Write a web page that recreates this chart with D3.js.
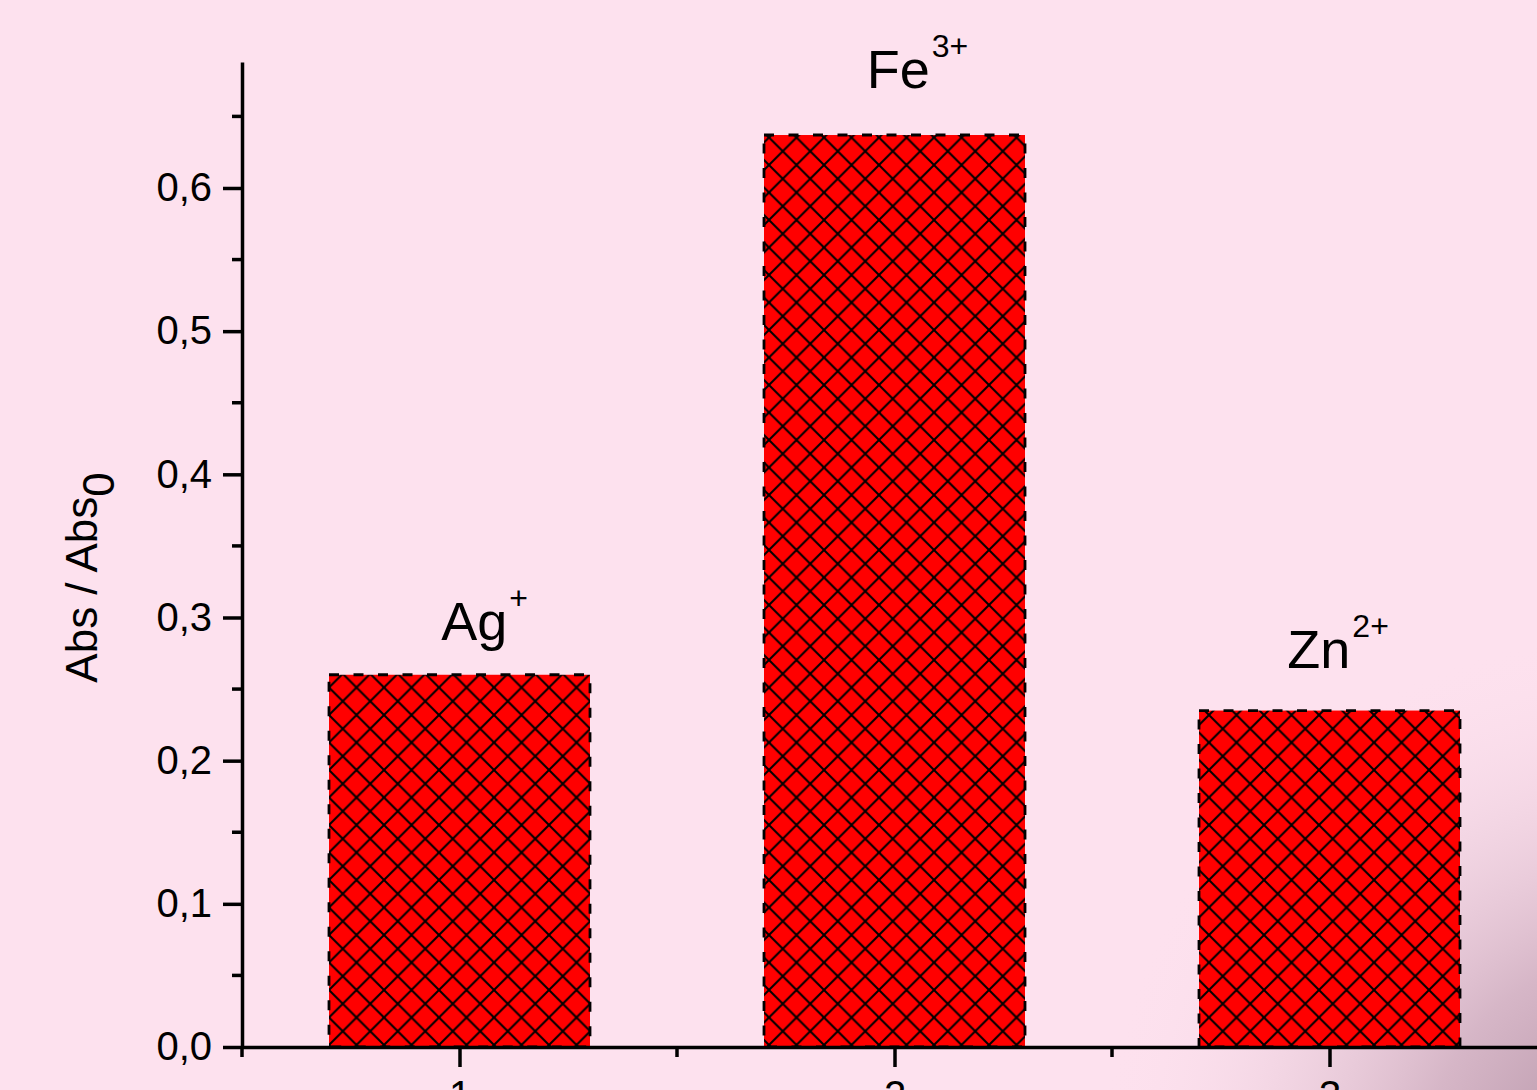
<!DOCTYPE html>
<html>
<head>
<meta charset="utf-8">
<script src="https://cdn.jsdelivr.net/npm/d3@7"></script>
<style>
  html, body { margin: 0; padding: 0; background: #fde1ee; }
  svg { display: block; font-family: "Liberation Sans", Arial, sans-serif; }
</style>
</head>
<body>
<svg id="chart" width="1537" height="1090"></svg>
<script>
// Relative absorbance per metal ion
const categories = [1, 2, 3];
const values = [0.260, 0.637, 0.235];
const ionNames = ["Ag", "Fe", "Zn"];
const ionCharges = ["+", "3+", "2+"];
// label anchor (start of the element symbol) in data units
const labelX = [0.958, 1.936, 2.903];
const labelY = [0.284, 0.670, 0.265];

const yMajorTicks = [0, 0.1, 0.2, 0.3, 0.4, 0.5, 0.6];
const yMinorTicks = [0.05, 0.15, 0.25, 0.35, 0.45, 0.55, 0.65];
const xMajorTicks = [1, 2, 3];
const xMinorTicks = [0.5, 1.5, 2.5, 3.5];
const yTitle = "Abs / Abs";
const yTitleSub = "0";

const W = 1537, H = 1090;
const svg = d3.select("#chart");

const x = d3.scaleLinear().domain([0.5, 3.5]).range([242, 1547]);
const y = d3.scaleLinear().domain([0, 0.688]).range([1047, 62]);
const barWidth = 0.6;

const defs = svg.append("defs");

// cross-hatch fill
const P = 27.5;
const pat = defs.append("pattern")
  .attr("id", "hatch")
  .attr("patternUnits", "userSpaceOnUse")
  .attr("x", x(1 - barWidth / 2))
  .attr("width", P).attr("height", P);
pat.append("rect").attr("width", P).attr("height", P).attr("fill", "#ff0000");
pat.append("path")
  .attr("d", `M0,0L${P},${P}M${P},0L0,${P}`)
  .attr("stroke", "#000").attr("stroke-width", 2).attr("fill", "none");

// soft shadow in the lower right corner
const rg = defs.append("radialGradient")
  .attr("id", "corner")
  .attr("gradientUnits", "userSpaceOnUse")
  .attr("cx", 1640).attr("cy", 1170).attr("r", 540);
rg.append("stop").attr("offset", 0).attr("stop-color", "#9c7a8e").attr("stop-opacity", 0.85);
rg.append("stop").attr("offset", 0.4).attr("stop-color", "#b693a7").attr("stop-opacity", 0.55);
rg.append("stop").attr("offset", 1).attr("stop-color", "#fde1ee").attr("stop-opacity", 0);

svg.append("rect").attr("width", W).attr("height", H).attr("fill", "#fde1ee");
svg.append("rect").attr("width", W).attr("height", H).attr("fill", "url(#corner)");

// bars
const data = categories.map((c, i) => ({ c, v: values[i], name: ionNames[i], charge: ionCharges[i], lx: labelX[i], ly: labelY[i] }));

svg.append("g").selectAll("rect.bar")
  .data(data)
  .join("rect")
  .attr("class", "bar")
  .attr("x", d => x(d.c - barWidth / 2))
  .attr("y", d => y(d.v))
  .attr("width", d => x(d.c + barWidth / 2) - x(d.c - barWidth / 2))
  .attr("height", d => y(0) - y(d.v))
  .attr("fill", "url(#hatch)")
  .attr("stroke", "#000")
  .attr("stroke-width", 2.8)
  .attr("stroke-dasharray", "10,14.5");

// y axis
const yAxis = d3.axisLeft(y)
  .tickValues(yMajorTicks)
  .tickSize(19)
  .tickSizeOuter(0)
  .tickPadding(11)
  .tickFormat(d => d3.format(".1f")(d).replace(".", ","));
const gy = svg.append("g").attr("transform", "translate(242,0)").call(yAxis);
gy.select(".domain").attr("stroke-width", 3.5);
gy.selectAll(".tick line").attr("stroke-width", 3.5);
gy.selectAll(".tick text").attr("font-size", 40).attr("fill", "#000")
  .attr("font-family", "Liberation Sans, Arial, sans-serif");
gy.append("g").selectAll("line")
  .data(yMinorTicks)
  .join("line")
  .attr("x1", -10).attr("x2", 0)
  .attr("y1", d => y(d)).attr("y2", d => y(d))
  .attr("stroke", "#000").attr("stroke-width", 3.5);

// x axis
const xAxis = d3.axisBottom(x)
  .tickValues(xMajorTicks)
  .tickSize(20)
  .tickSizeOuter(0)
  .tickPadding(14)
  .tickFormat(d3.format("d"));
const gx = svg.append("g").attr("transform", "translate(0,1047)").call(xAxis);
gx.select(".domain").attr("stroke-width", 3.5);
gx.selectAll(".tick line").attr("stroke-width", 3.5);
gx.selectAll(".tick text").attr("font-size", 40).attr("fill", "#000")
  .attr("font-family", "Liberation Sans, Arial, sans-serif");
gx.append("g").selectAll("line")
  .data(xMinorTicks)
  .join("line")
  .attr("x1", d => x(d)).attr("x2", d => x(d))
  .attr("y1", 0).attr("y2", 10)
  .attr("stroke", "#000").attr("stroke-width", 3.5);

gy.select(".domain").raise();

// ion labels with superscript charges
const labels = svg.append("g").selectAll("text.ion")
  .data(data)
  .join("text")
  .attr("class", "ion")
  .attr("x", d => x(d.lx))
  .attr("y", d => y(d.ly))
  .attr("font-size", 54)
  .attr("fill", "#000");
labels.append("tspan").text(d => d.name);
labels.append("tspan")
  .attr("font-size", 32)
  .attr("dy", -31)
  .attr("dx", 2)
  .text(d => d.charge);

// y axis title
const title = svg.append("text")
  .attr("transform", `translate(97,${(470 + 685) / 2}) rotate(-90)`)
  .attr("text-anchor", "middle")
  .attr("font-size", 44)
  .attr("fill", "#000");
title.append("tspan").text(yTitle);
title.append("tspan").attr("dy", 17).text(yTitleSub);
</script>
</body>
</html>
